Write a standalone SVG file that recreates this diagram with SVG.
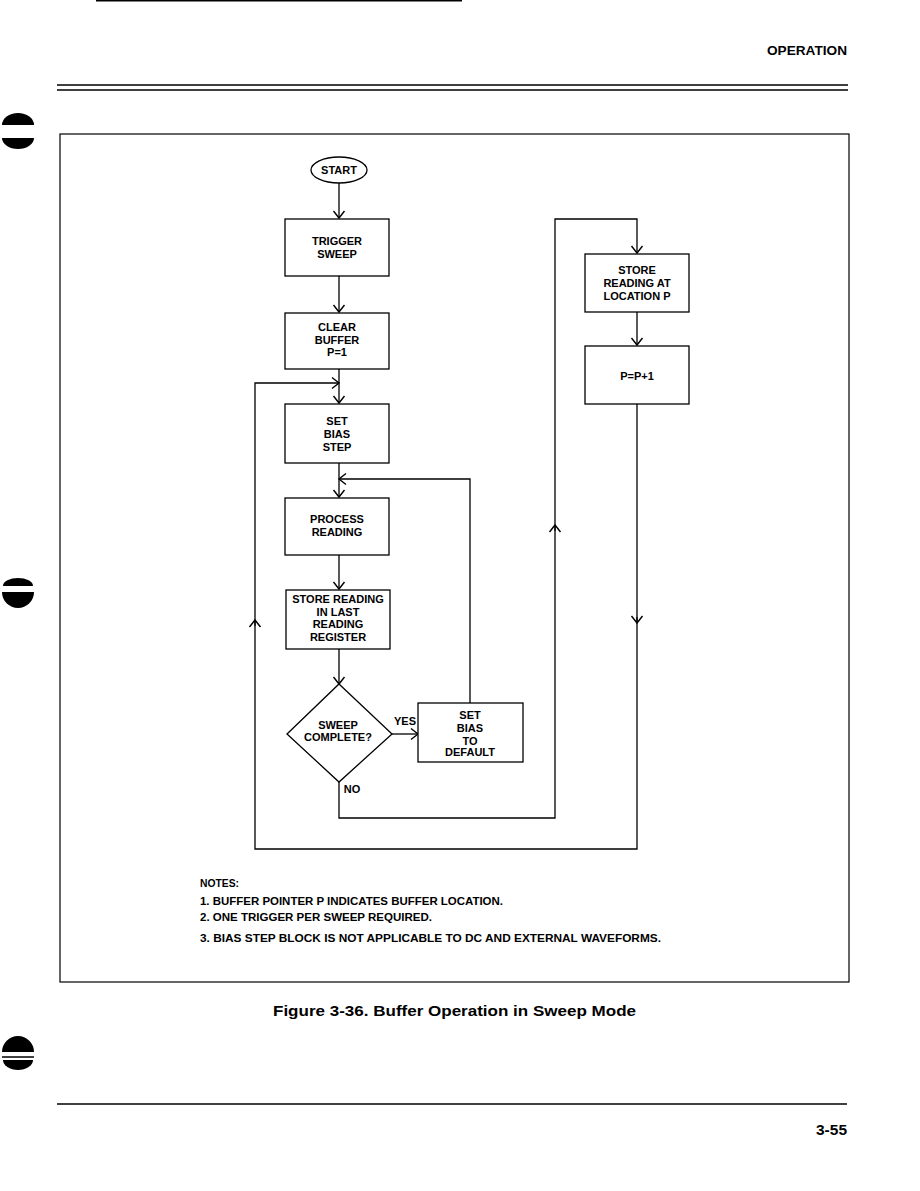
<svg xmlns="http://www.w3.org/2000/svg" width="920" height="1191" viewBox="0 0 920 1191">
<style>
.box{fill:#fff;stroke:#000;stroke-width:1.3}
.ln{fill:none;stroke:#000;stroke-width:1.3}
.t{font-family:"Liberation Sans",Arial,sans-serif;font-weight:bold;font-size:11px;fill:#000;text-anchor:middle}
.n{font-family:"Liberation Sans",Arial,sans-serif;font-weight:bold;font-size:11px;fill:#000}
.rule{stroke:#000;stroke-width:1.6}
</style>
<defs>
<marker id="ah" markerUnits="userSpaceOnUse" viewBox="-9 -7 11 14" markerWidth="11" markerHeight="14" refX="0" refY="0" orient="auto">
<path d="M-7,-5.5 L0,0 L-7,5.5" fill="none" stroke="#000" stroke-width="1.4"/>
</marker>
</defs>
<rect width="920" height="1191" fill="#fff"/>
<g id="page">
<line class="rule" x1="96" y1="0.8" x2="462" y2="0.8"/>
<text x="847" y="55" font-family="Liberation Sans,Arial,sans-serif" font-weight="bold" font-size="13" text-anchor="end" textLength="80" lengthAdjust="spacingAndGlyphs">OPERATION</text>
<line class="rule" x1="57" y1="85" x2="848" y2="85"/>
<line class="rule" x1="57" y1="90" x2="848" y2="90"/>
<rect x="60" y="134" width="789" height="848" fill="none" stroke="#000" stroke-width="1.2"/>
<line class="rule" x1="57" y1="1104" x2="847" y2="1104"/>
<text x="847" y="1135" font-family="Liberation Sans,Arial,sans-serif" font-weight="bold" font-size="14" text-anchor="end" textLength="31" lengthAdjust="spacingAndGlyphs">3-55</text>
<text x="454.5" y="1016" font-family="Liberation Sans,Arial,sans-serif" font-weight="bold" font-size="15" text-anchor="middle" textLength="363" lengthAdjust="spacingAndGlyphs">Figure 3-36. Buffer Operation in Sweep Mode</text>
<path d="M2,125 A16,12 0 0 1 34,125 Z"/>
<path d="M2,138 A16,11 0 0 0 34,138 Z"/>
<path d="M3,586 A15,8 0 0 1 33,586 Z"/>
<path d="M2,592 A16,16 0 0 0 34,592 Z"/>
<path d="M2,1052 A16,16 0 0 1 34,1052 Z"/>
<line x1="2" y1="1057" x2="34" y2="1057" stroke="#000" stroke-width="1.5"/>
<path d="M3,1060 A15,10 0 0 0 33,1060 Z"/>
</g>
<g id="connectors">
<path class="ln" d="M339,183 V218" marker-end="url(#ah)"/>
<path class="ln" d="M339,276 V312" marker-end="url(#ah)"/>
<path class="ln" d="M339,369 V403" marker-end="url(#ah)"/>
<path class="ln" d="M637,404 V849 H255 V383 H339" marker-end="url(#ah)"/>
<path class="ln" d="M637,617 V623" marker-end="url(#ah)"/>
<path class="ln" d="M255,626 V620" marker-end="url(#ah)"/>
<path class="ln" d="M339,463 V497" marker-end="url(#ah)"/>
<path class="ln" d="M470,703 V479 H339" marker-end="url(#ah)"/>
<path class="ln" d="M339,555 V589" marker-end="url(#ah)"/>
<path class="ln" d="M339,649 V684" marker-end="url(#ah)"/>
<path class="ln" d="M392,734 H418" marker-end="url(#ah)"/>
<path class="ln" d="M339,782 V818 H555 V219 H637 V253" marker-end="url(#ah)"/>
<path class="ln" d="M555,531 V525" marker-end="url(#ah)"/>
<path class="ln" d="M637,312 V345" marker-end="url(#ah)"/>
<text class="t" x="405" y="725" font-size="10.5">YES</text>
<text class="t" x="352" y="793">NO</text>
</g>
<g id="start">
<ellipse cx="339" cy="170" rx="28" ry="13" class="box"/>
<text class="t" x="339" y="174">START</text>
</g>
<g id="trigger">
<rect class="box" x="285" y="219" width="104" height="57"/>
<text class="t" x="337" y="245">TRIGGER</text>
<text class="t" x="337" y="258">SWEEP</text>
</g>
<g id="clear">
<rect class="box" x="285" y="313" width="104" height="56"/>
<text class="t" x="337" y="331">CLEAR</text>
<text class="t" x="337" y="344">BUFFER</text>
<text class="t" x="337" y="356">P=1</text>
</g>
<g id="setbias">
<rect class="box" x="285" y="404" width="104" height="59"/>
<text class="t" x="337" y="425">SET</text>
<text class="t" x="337" y="438">BIAS</text>
<text class="t" x="337" y="451">STEP</text>
</g>
<g id="process">
<rect class="box" x="285" y="498" width="104" height="57"/>
<text class="t" x="337" y="523">PROCESS</text>
<text class="t" x="337" y="536">READING</text>
</g>
<g id="storelast">
<rect class="box" x="286" y="590" width="104" height="59"/>
<text class="t" x="338" y="603" font-size="10.5">STORE READING</text>
<text class="t" x="338" y="616" font-size="10.5">IN LAST</text>
<text class="t" x="338" y="628" font-size="10.5">READING</text>
<text class="t" x="338" y="641" font-size="10.5">REGISTER</text>
</g>
<g id="decision">
<polygon class="box" points="339,684 392,734 339,782 287,734"/>
<text class="t" x="338" y="729" font-size="10.5">SWEEP</text>
<text class="t" x="338" y="741" font-size="10.5">COMPLETE?</text>
</g>
<g id="default">
<rect class="box" x="418" y="703" width="105" height="59"/>
<text class="t" x="470" y="719">SET</text>
<text class="t" x="470" y="732">BIAS</text>
<text class="t" x="470" y="745">TO</text>
<text class="t" x="470" y="756">DEFAULT</text>
</g>
<g id="storeat">
<rect class="box" x="585" y="254" width="104" height="58"/>
<text class="t" x="637" y="274">STORE</text>
<text class="t" x="637" y="287">READING AT</text>
<text class="t" x="637" y="300">LOCATION P</text>
</g>
<g id="increment">
<rect class="box" x="585" y="346" width="104" height="58"/>
<text class="t" x="637" y="380">P=P+1</text>
</g>
<g id="notes">
<text class="n" x="200" y="887" textLength="39" lengthAdjust="spacingAndGlyphs">NOTES:</text>
<text class="n" x="200" y="905" textLength="303" lengthAdjust="spacingAndGlyphs">1. BUFFER POINTER P INDICATES BUFFER LOCATION.</text>
<text class="n" x="200" y="921" textLength="232" lengthAdjust="spacingAndGlyphs">2. ONE TRIGGER PER SWEEP REQUIRED.</text>
<text class="n" x="200" y="942" textLength="461" lengthAdjust="spacingAndGlyphs">3. BIAS STEP BLOCK IS NOT APPLICABLE TO DC AND EXTERNAL WAVEFORMS.</text>
</g>
</svg>
